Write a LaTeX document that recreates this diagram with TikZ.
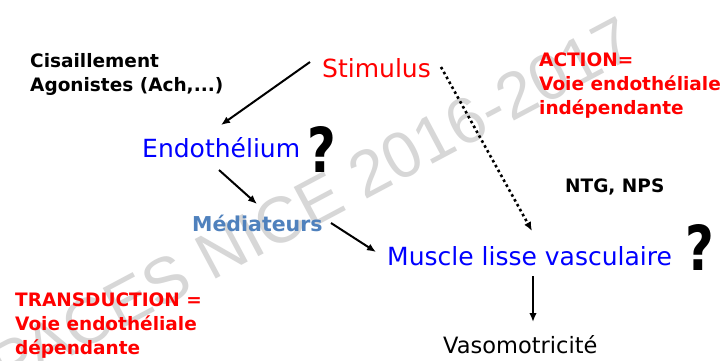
\documentclass[tikz,border=0pt]{standalone}
\usepackage{fontspec}
\setmainfont{DejaVu Sans}
\newfontfamily\wmfont{Liberation Sans}
\usetikzlibrary{arrows.meta}
\definecolor{wm}{RGB}{215,215,215}
\definecolor{medblue}{RGB}{79,129,189}
\tikzset{
  lab/.style={inner sep=0pt, font=\bfseries\fontsize{18.5}{24}\selectfont, align=left},
  comic/.style={inner sep=0pt, font=\fontsize{25}{30}\selectfont},
  qmark/.style={inner sep=0pt, font=\bfseries\fontsize{62}{62}\selectfont},
  arr/.style={line width=2pt, -{Latex[length=9pt,width=7.5pt]}},
  dotarr/.style={line width=2.6pt, dash pattern=on 2.6pt off 3pt, -{Latex[length=9pt,width=7.5pt]}}
}
\begin{document}
\begin{tikzpicture}[x=1pt,y=-1pt]
\useasboundingbox[fill=white] (0,0) rectangle (724,360);
% watermark
\node[inner sep=0pt, text=wm, rotate=28, font=\wmfont\fontsize{65}{65}\selectfont] (wmk) at (312,203) {PACES NICE 2016-2017};
% labels
\node[lab, anchor=north west] (cis) at (30,53) {Cisaillement\\Agonistes (Ach,...)};
\node[lab, anchor=north west, text=red] (act) at (539,52.5) {ACTION=\\Voie endothéliale\\indépendante};
\node[lab, anchor=north west, text=red] (trans) at (15,292.5) {TRANSDUCTION =\\Voie endothéliale\\dépendante};
\node[lab, anchor=base west] (ntg) at (565,192) {NTG, NPS};
\node[inner sep=0pt, anchor=base west, text=medblue, font=\bfseries\fontsize{20.5}{24}\selectfont] (med) at (192,231) {Médiateurs};
% main nodes
\node[comic, anchor=base west, text=red] (stim) at (322,77) {Stimulus};
\node[comic, anchor=base west, text=blue] (endo) at (142,157) {Endothélium};
\node[comic, anchor=base west, text=blue] (musc) at (387,265) {Muscle lisse vasculaire};
\node[inner sep=0pt, anchor=base west, font=\fontsize{22.5}{26}\selectfont] (vaso) at (443,353) {Vasomotricité};
\node[qmark, anchor=base west] (q1) at (307,172) {\scalebox{0.8}[1]{?}};
\node[qmark, anchor=base west] (q2) at (685,270) {\scalebox{0.8}[1]{?}};
% connectors
\draw[arr] ([shift={(-12,-15)}]stim.base west) -- ([shift={(79,-32)}]endo.base west);
\draw[arr] ([shift={(77,13)}]endo.base west) -- ([shift={(65,-27)}]med.base west);
\draw[arr] ([shift={(139,-8)}]med.base west) -- ([shift={(-11,-13)}]musc.base west);
\draw[dotarr] ([shift={(119,-10)}]stim.base west) -- ([shift={(145,-34)}]musc.base west);
\draw[arr] ([shift={(146,11)}]musc.base west) -- ([shift={(90,-31)}]vaso.base west);
\end{tikzpicture}
\end{document}
